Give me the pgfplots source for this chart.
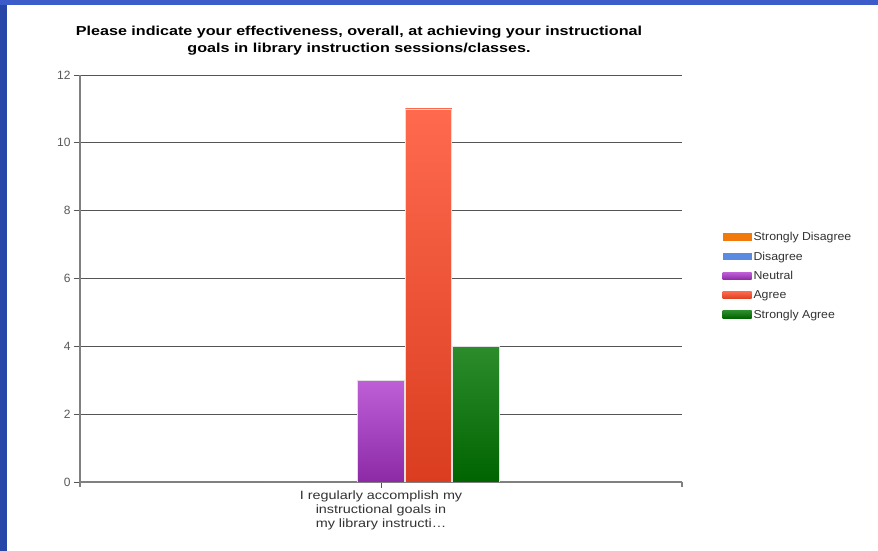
\documentclass[border=0pt]{standalone}
\usepackage{pgfplots}
\pgfplotsset{compat=1.18}
\usepackage{fontspec}
\setmainfont{Liberation Sans}
\definecolor{frameL}{HTML}{2646A8}
\definecolor{frameT}{HTML}{3B5CC9}
\definecolor{gridc}{HTML}{555555}
\definecolor{axc}{HTML}{808080}
\definecolor{txt}{HTML}{333333}
\definecolor{sdis}{HTML}{F27A0C}
\definecolor{dis}{HTML}{5B8BE0}
\definecolor{neuT}{HTML}{BE5FD8}
\definecolor{neuB}{HTML}{8C2AA6}
\definecolor{agrT}{HTML}{FF6A4E}
\definecolor{agrB}{HTML}{DA3D20}
\definecolor{sagT}{HTML}{2C8C2C}
\definecolor{sagB}{HTML}{006400}
\newcommand{\wide}[1]{\scalebox{1.2}[1]{#1}}
\newcommand{\wideL}[1]{\scalebox{1.07}[1]{#1}}
\begin{document}
\begin{tikzpicture}
\useasboundingbox (0pt,0pt) rectangle (878pt,551pt);
\fill[white] (0pt,0pt) rectangle (878pt,551pt);
\fill[frameL] (0pt,0pt) rectangle (7pt,551pt);
\fill[frameT] (0pt,546pt) rectangle (878pt,551pt);
\node[align=center,font=\bfseries\fontsize{13}{17}\selectfont,text=black] at (359pt,510pt) {\scalebox{1.24}[1]{Please indicate your effectiveness, overall, at achieving your instructional}\\\scalebox{1.24}[1]{goals in library instruction sessions/classes.}};
\begin{axis}[
  at={(80pt,69pt)}, anchor=south west,
  scale only axis, width=602pt, height=407pt,
  xmin=-1, xmax=1, ymin=0, ymax=12,
  ytick={0,2,...,12},
  xtick={0}, xticklabels={{\wide{I regularly accomplish my}\\\wide{instructional goals in}\\\wide{my library instructi\ldots}}},
  xticklabel style={align=center, font=\fontsize{12}{14}\selectfont, text=txt, yshift=1pt},
  yticklabel style={font=\fontsize{12}{14}\selectfont, text=black!65},
  /pgf/number format/assume math mode=true,
  axis x line*=bottom, axis y line*=left,
  axis line style={axc, line width=1.3pt, -},
  y axis line style={shorten <=-5pt},
  tick style={gridc, line width=0.8pt},
  xtick align=outside, ytick align=outside,
  major tick length=6pt,
  extra x ticks={1}, extra x tick labels={},
  extra x tick style={major tick length=5pt, tick style={axc,line width=1.3pt}},
  ymajorgrids, grid style={gridc, line width=0.9pt},
  ybar=1pt, bar width=46.5pt,
  legend style={at={(1.067,0.506)}, anchor=west, draw=none, fill=none,
    font=\fontsize{11.5}{13}\selectfont, text=txt, row sep=5.6pt,
    cells={anchor=west}, inner xsep=0pt},
  legend image code/.code={\path[#1,draw=none] (0pt,-3.5pt) rectangle (29pt,4pt);},
]
\addplot[fill=sdis, draw=none] coordinates {(0,0)};
\addplot[fill=dis, draw=none] coordinates {(0,0)};
\addplot[top color=neuT, bottom color=neuB, draw=black!12, line width=0.6pt] coordinates {(0,3)};
\addplot[top color=agrT, bottom color=agrB, draw=black!12, line width=0.6pt] coordinates {(0,11)};
\addplot[top color=sagT, bottom color=sagB, draw=black!12, line width=0.6pt] coordinates {(0,4)};
\legend{\wideL{Strongly Disagree}, \wideL{Disagree}, \wideL{Neutral}, \wideL{Agree}, \wideL{Strongly Agree}}
\end{axis}
\end{tikzpicture}
\end{document}
